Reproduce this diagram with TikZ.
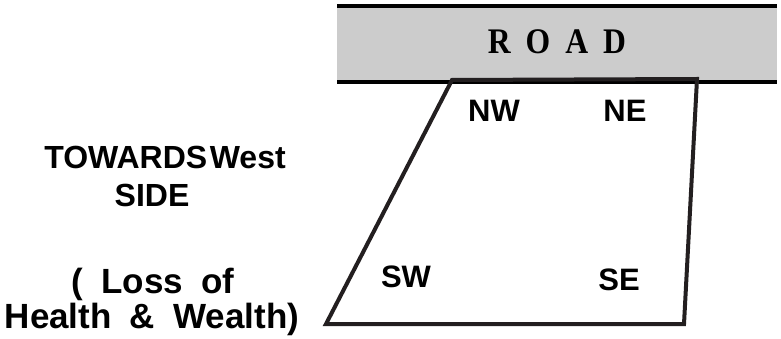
\documentclass[tikz,border=0pt]{standalone}
\usepackage{fontspec}
\setmainfont{Liberation Sans}
\newfontfamily\roadfont[FakeStretch=0.88]{Liberation Serif}
\usepackage{tikz}
\definecolor{roadgray}{HTML}{CCCCCC}
\definecolor{plotline}{HTML}{231F20}

\begin{document}
\begin{tikzpicture}[x=1pt, y=-1pt]

    % Define styles
    \tikzstyle{side} = [inner sep=0pt, anchor=base, font=\bfseries\fontsize{32}{35}\selectfont]
    \tikzstyle{effect} = [inner sep=0pt, anchor=base, font=\bfseries\fontsize{35}{38}\selectfont]
    \tikzstyle{corner} = [inner sep=0pt, anchor=base, font=\bfseries\fontsize{31}{34}\selectfont]
    \tikzstyle{edge} = [line width=4pt]
    \tikzstyle{plot} = [line width=4pt, draw=plotline, line join=miter]

    \useasboundingbox (0,0) rectangle (781,339);

    % Road
    \fill[roadgray] (337,6) rectangle (777,82);
    \draw[edge] (337,6) -- (777,6);
    \draw[edge] (337,82) -- (777,82);
    \node[inner sep=0pt, anchor=base, font=\roadfont\bfseries\fontsize{36}{39}\selectfont] (road) at (557,54) {R\hspace{15pt}O\hspace{15pt}A\hspace{15pt}D};

    % Plot
    \coordinate (nwc) at (452,80);
    \coordinate (nec) at (697,79);
    \coordinate (sec) at (684,324);
    \coordinate (swc) at (326,324);
    \draw[plot] (nwc) -- (nec) -- (sec) -- (swc) -- cycle;

    % Nodes
    \node[corner] (nw) at (494,122) {NW};
    \node[corner] (ne) at (625,122) {NE};
    \node[corner] (sw) at (406,287) {SW};
    \node[corner] (se) at (619,290) {SE};

    \node[side] (towards) at (165,169) {TOWARDS\hspace{0.08em}West};
    \node[side] (sidetext) at (152,207) {SIDE};
    \node[effect] (loss) at (153,293) {(\hspace{0.52em}Loss\hspace{0.52em}of};
    \node[effect] (health) at (152,328) {Health\hspace{0.52em}\&\hspace{0.52em}Wealth)};

\end{tikzpicture}
\end{document}
